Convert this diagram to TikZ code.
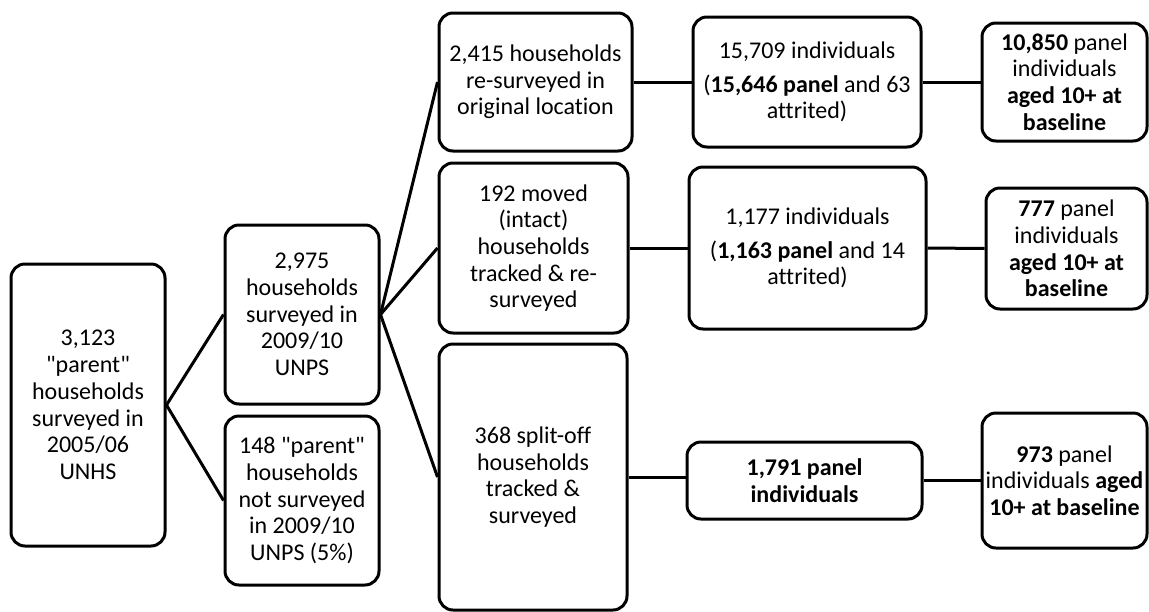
\documentclass[tikz,border=0pt]{standalone}
\usepackage{fontspec}
\setmainfont{Carlito}[Ligatures={TeX,NoCommon}]
\begin{document}
\begin{tikzpicture}[x=1pt,y=-1pt,
  box/.style={draw, line width=3pt, rounded corners=14pt, align=center, inner sep=2pt,
    font=\fontsize{24}{26.7}\selectfont},
  conn/.style={line width=3pt}]
\useasboundingbox (0,0) rectangle (1149,611);
\node[box, minimum width=154pt, minimum height=282pt] (A) at (88,405) {3,123\\\textquotedbl parent\textquotedbl\\households\\surveyed in\\2005/06\\UNHS};
\node[box, minimum width=154pt, minimum height=179pt] (B) at (302,314.5) {2,975\\households\\surveyed in\\2009/10\\UNPS};
\node[box, minimum width=154pt, minimum height=169pt] (C) at (302,500.5) {148 \textquotedbl parent\textquotedbl\\households\\not surveyed\\in 2009/10\\UNPS (5\%)};
\node[box, minimum width=193pt, minimum height=138pt] (D) at (535.5,82) {2,415 households\\re-surveyed in\\original location};
\node[box, minimum width=189pt, minimum height=170pt] (E) at (533.5,248) {192 moved\\(intact)\\households\\tracked \& re-\\surveyed};
\node[box, minimum width=188pt, minimum height=266pt] (F) at (533,477) {368 split-off\\households\\tracked \&\\surveyed};
\node[box, minimum width=228pt, minimum height=130pt] (G) at (807,82) {15,709 individuals\\[7pt](\textbf{15,646 panel} and 63\\attrited)};
\node[box, minimum width=237pt, minimum height=162pt] (H) at (807.5,248) {1,177 individuals\\[7pt](\textbf{1,163 panel} and 14\\attrited)};
\node[box, minimum width=235pt, minimum height=77pt] (I) at (804.5,480.5) {\textbf{1,791 panel}\\\textbf{individuals}};
\node[box, minimum width=165pt, minimum height=118pt] (J) at (1064.5,82) {\textbf{10,850} panel\\individuals\\\textbf{aged 10+ at}\\\textbf{baseline}};
\node[box, minimum width=161pt, minimum height=121pt] (K) at (1066.5,248.5) {\textbf{777} panel\\individuals\\\textbf{aged 10+ at}\\\textbf{baseline}};
\node[box, minimum width=165pt, minimum height=135pt] (L) at (1064.5,480.5) {\textbf{973} panel\\individuals \textbf{aged}\\\textbf{10+ at baseline}};
\draw[conn] (A.east) -- (B.west);
\draw[conn] (A.east) -- (C.west);
\draw[conn] (B.east) -- (D.west);
\draw[conn] (B.east) -- (E.west);
\draw[conn] (B.east) -- (F.west);
\draw[conn] (D.east) -- (G.west);
\draw[conn] (E.east) -- (H.west);
\draw[conn] (F.east) -- (I.west |- F.east);
\draw[conn] (G.east) -- (J.west);
\draw[conn] (H.east) -- (K.west);
\draw[conn] (I.east) -- (L.west);
\end{tikzpicture}
\end{document}
